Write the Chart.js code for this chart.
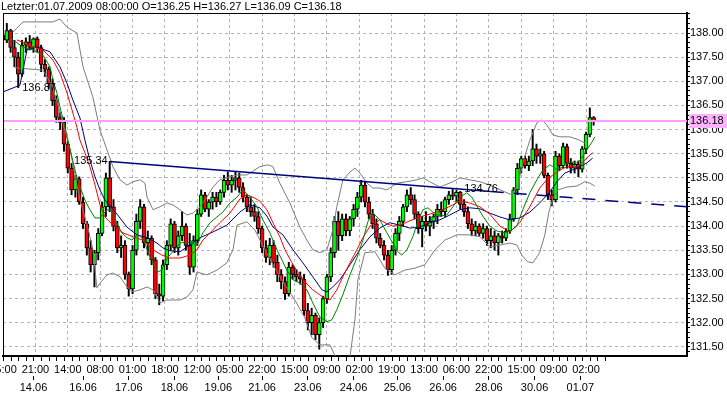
<!DOCTYPE html>
<html>
<head>
<meta charset="utf-8">
<title>Letzter 01.07.2009</title>
<script src="https://cdn.jsdelivr.net/npm/chart.js@4.4.1/dist/chart.umd.min.js"></script>
<style>
  html, body { margin: 0; padding: 0; background: #ffffff; }
  canvas { display: block; }
</style>
</head>
<body>
<canvas id="chart" width="727" height="398"></canvas>
<script>
// Kerzen: ein Eintrag je 2 Stunden-Bars (x = Bar-Nummer)
const barStep = 2;
const opens = [
  137.95,137.85,138.05,137.70,137.50,137.15,137.75,137.82,137.70,137.88,
  137.70,137.35,137.25,136.95,136.60,136.25,136.15,135.70,135.20,134.75,
  134.98,134.50,134.05,133.55,133.20,133.45,133.85,134.40,135.00,134.40,
  134.00,133.55,133.60,133.00,132.70,133.50,134.10,134.40,133.65,133.75,
  133.30,132.60,132.55,133.20,133.60,134.05,133.55,133.80,134.00,133.60,
  133.15,133.70,134.25,134.65,134.35,134.50,134.60,134.50,134.70,134.95,
  134.85,134.95,135.00,134.80,134.60,134.40,134.30,134.20,133.95,133.55,
  133.35,133.60,133.25,133.00,132.85,132.60,133.15,133.00,132.95,132.90,
  132.25,132.00,132.15,131.75,132.00,132.50,132.95,133.45,134.10,133.80,
  134.15,133.90,134.15,134.35,134.60,134.85,134.50,134.25,134.05,133.75,
  133.60,133.40,133.10,133.50,133.85,134.10,134.40,134.65,134.55,134.25,
  133.95,134.10,134.00,134.10,134.20,134.35,134.30,134.55,134.65,134.62,
  134.70,134.45,134.30,134.05,133.90,134.00,133.85,133.95,133.70,133.80,
  133.65,133.80,133.75,133.90,134.15,134.75,135.20,135.40,135.25,135.35,
  135.60,135.45,135.50,135.05,134.65,134.55,135.45,135.25,135.65,135.30,
  135.20,135.28,135.18,135.60,135.90,136.25
];
const highs = [
  138.15,138.20,138.08,137.85,137.60,137.85,137.90,137.95,137.90,137.92,
  137.75,137.45,137.30,137.05,136.70,136.35,136.25,135.75,135.30,135.05,
  135.02,134.60,134.10,133.70,133.50,133.95,134.50,135.10,135.34,134.55,
  134.10,133.80,133.70,133.05,133.60,134.25,134.55,134.45,133.90,133.80,
  133.35,132.80,133.30,133.70,134.15,134.10,133.90,134.30,134.05,133.85,
  133.80,134.35,134.75,134.70,134.55,134.70,134.70,134.75,135.05,135.12,
  135.05,135.12,135.10,134.90,134.65,134.60,134.45,134.30,134.00,133.70,
  133.75,133.70,133.40,133.10,132.95,133.25,133.20,133.10,133.05,133.00,
  132.40,132.30,132.20,132.10,132.55,133.00,133.55,134.20,134.30,134.25,
  134.25,134.20,134.45,134.70,134.95,134.93,134.60,134.35,134.15,133.85,
  133.70,133.50,133.60,133.95,134.20,134.45,134.75,134.80,134.65,134.30,
  134.20,134.30,134.20,134.25,134.45,134.50,134.60,134.72,134.76,134.74,
  134.72,134.55,134.40,134.15,134.10,134.05,134.05,134.00,133.95,133.90,
  133.85,133.90,133.95,134.25,134.80,135.30,135.45,135.45,135.45,136.00,
  135.70,135.60,135.55,135.10,134.75,135.55,135.50,135.72,135.70,135.40,
  135.35,135.35,135.65,135.95,136.45,136.27
];
const lows = [
  137.78,137.80,137.60,137.30,136.87,137.10,137.60,137.65,137.60,137.60,
  137.20,137.10,136.85,136.50,136.15,136.00,135.55,135.10,134.65,134.60,
  134.45,133.95,133.40,133.05,132.74,133.30,133.80,134.20,134.30,133.90,
  133.45,133.35,132.90,132.55,132.60,133.40,133.95,133.55,133.40,133.20,
  132.50,132.37,132.45,133.10,133.50,133.45,133.40,133.70,133.50,133.00,
  133.05,133.60,134.20,134.30,134.20,134.35,134.40,134.45,134.60,134.75,
  134.70,134.75,134.70,134.50,134.30,134.20,134.10,133.85,133.45,133.25,
  133.20,133.15,132.85,132.70,132.48,132.55,132.90,132.85,132.80,132.15,
  131.85,131.75,131.65,131.45,131.90,132.40,132.85,133.35,133.50,133.70,
  133.80,133.80,134.00,134.20,134.50,134.40,134.15,133.95,133.65,133.55,
  133.30,132.98,133.00,133.40,133.70,134.00,134.30,134.45,134.15,133.85,
  133.57,133.90,133.80,133.95,134.05,134.20,134.20,134.45,134.55,134.50,
  134.35,134.20,133.95,133.80,133.80,133.80,133.75,133.60,133.55,133.50,
  133.40,133.65,133.70,133.85,134.10,134.65,135.10,135.20,135.15,135.25,
  135.30,135.30,135.00,134.55,134.42,134.50,135.15,135.20,135.20,135.10,
  135.10,135.02,135.12,135.50,135.85,136.09
];
const closes = [
  137.85,138.05,137.70,137.50,137.15,137.75,137.82,137.70,137.88,137.70,
  137.35,137.25,136.95,136.60,136.25,136.15,135.70,135.20,134.75,134.98,
  134.50,134.05,133.55,133.20,133.45,133.85,134.40,135.00,134.40,134.00,
  133.55,133.60,133.00,132.70,133.50,134.10,134.40,133.65,133.75,133.30,
  132.60,132.55,133.20,133.60,134.05,133.55,133.80,134.00,133.60,133.15,
  133.70,134.25,134.65,134.35,134.50,134.60,134.50,134.70,134.95,134.85,
  134.95,135.00,134.80,134.60,134.40,134.30,134.20,133.95,133.55,133.35,
  133.60,133.25,133.00,132.85,132.60,133.15,133.00,132.95,132.90,132.25,
  132.00,132.15,131.75,132.00,132.50,132.95,133.45,134.10,133.80,134.15,
  133.90,134.15,134.35,134.60,134.85,134.50,134.25,134.05,133.75,133.60,
  133.40,133.10,133.50,133.85,134.10,134.40,134.65,134.55,134.25,133.95,
  134.10,134.00,134.10,134.20,134.35,134.30,134.55,134.65,134.62,134.70,
  134.45,134.30,134.05,133.90,134.00,133.85,133.95,133.70,133.80,133.65,
  133.80,133.75,133.90,134.15,134.75,135.20,135.40,135.25,135.35,135.60,
  135.45,135.50,135.05,134.65,134.55,135.45,135.25,135.65,135.30,135.20,
  135.28,135.18,135.60,135.90,136.25,136.18
];

// Achsen-Beschriftung (Bar-Nummern und Texte)
const timeTickBars = [0,17,34,51,68,85,102,119,136,153,170,187,204,221,238,255,272,289,306];
const timeLabels = ['05:00','21:00','14:00','08:00','01:00','18:00','12:00','05:00','22:00','15:00',
                    '09:00','02:00','19:00','13:00','06:00','22:00','15:00','09:00','02:00'];
const dateTickBars = [16,42,66,90,113,136,160,184,207,231,255,279,303];
const dateLabels = ['14.06','16.06','17.06','18.06','19.06','21.06','23.06','24.06','25.06','26.06','28.06','30.06','01.07'];

const maFast = [[3.7,137.90],[10.5,137.71],[15.7,137.65],[21,137.54],[24.7,137.30],[26.2,137.03],[28.3,136.76],[29.9,136.47],[32.5,136.05],[34.1,135.78],[36.2,135.43],[37.8,135.16],[39.4,134.92],[41.4,134.71],[43,134.54],[45.6,134.34],[48.3,134.17],[50.9,134.17],[54.6,134.34],[57.2,134.31],[60.3,134.02],[62.4,133.86],[65.1,133.76],[67.7,133.71],[69.3,133.78],[70.8,133.82],[72.9,133.76],[74.5,133.65],[76.1,133.45],[78.2,133.30],[79.7,133.16],[81.3,133.05],[83.4,133.09],[85,133.24],[86.6,133.36],[88.7,133.45],[90.2,133.51],[92.9,133.65],[95.5,133.67],[98.1,133.65],[101.8,133.61],[104.9,133.86],[108.6,134.07],[112.3,134.19],[115.4,134.29],[119.1,134.48],[122.8,134.60],[125.9,134.75],[129.6,134.60],[133.3,134.40],[136.4,134.13],[140.1,133.86],[143.8,133.51],[149,133.09],[152.2,132.89],[155.8,132.82],[159.5,132.68],[162.6,132.41],[166.3,132.12],[170,132.02],[172.6,132.06],[175.2,132.27],[178.4,132.58],[182.1,132.99],[185.7,133.34],[188.9,133.71],[191.5,134.09],[194.1,134.27],[197.8,134.13],[201.5,133.86],[204.6,133.65],[207.2,133.47],[209.3,133.40],[212,133.51],[215.1,133.78],[217.7,134.09],[220.4,134.34],[223,134.38],[225.6,134.29],[229.3,134.21],[232.9,134.23],[236.1,134.40],[239.8,134.60],[243.4,134.69],[246.1,134.60],[248.7,134.42],[251.8,134.21],[255.5,134.00],[259.2,133.90],[263.4,133.86],[267,133.92],[269.7,134.00],[272.8,134.34],[276.5,134.69],[280.2,134.96],[283.3,135.16],[287,135.27],[288.6,135.23],[291.2,135.16],[293.8,135.23],[297.5,135.33],[301.2,135.31],[303.8,135.41],[306.4,135.58],[309.1,135.74],[310.6,135.85]];
const maMid = [[7.3,137.86],[15.7,137.71],[21,137.65],[26.2,137.44],[29.9,137.17],[33.6,136.76],[36.2,136.41],[38.8,136.05],[40.4,135.78],[43,135.52],[45.6,135.23],[48.3,134.85],[50.9,134.44],[53.5,134.19],[57.7,134.02],[63,133.86],[68.2,133.78],[73.5,133.71],[78.7,133.51],[83.4,133.40],[87.6,133.34],[92.9,133.34],[98.1,133.40],[101.8,133.51],[104.9,133.71],[108.6,133.86],[113.8,134.07],[119.1,134.27],[124.3,134.56],[128,134.65],[131.2,134.60],[134.8,134.52],[138.5,134.34],[141.7,134.07],[145.3,133.78],[148,133.51],[152.2,133.20],[157.4,132.89],[162.6,132.68],[167.9,132.53],[171.6,132.47],[175.2,132.68],[178.4,132.95],[182.1,133.24],[185.7,133.51],[188.9,133.76],[192.6,134.00],[197.8,134.13],[201.5,134.05],[204.6,134.00],[208.3,134.02],[213.5,134.11],[218.8,134.19],[224,134.25],[229.3,134.31],[236.1,134.44],[239.8,134.52],[245,134.48],[250.3,134.40],[255.5,134.25],[260.8,134.00],[266,133.88],[271.2,134.07],[276.5,134.40],[281.7,134.79],[285.4,134.96],[288.6,135.06],[292.2,135.16],[295.9,135.23],[301.2,135.23],[304.3,135.33],[308,135.47],[309.5,135.52]];
const maSlow = [[0,136.78],[8.9,136.92],[12.6,137.65],[17.8,137.71],[24.7,137.61],[29.9,137.30],[33.6,136.96],[36.7,136.61],[40.4,136.24],[43,135.78],[45.6,135.37],[48.3,135.02],[50.9,134.75],[53.5,134.54],[56.1,134.42],[59.8,134.25],[65.1,133.98],[70.3,133.82],[75.6,133.76],[80.8,133.65],[83.9,133.55],[87.6,133.49],[92.9,133.47],[98.1,133.61],[103.4,133.76],[110.2,133.88],[117.5,134.02],[124.3,134.29],[129.6,134.44],[134.8,134.38],[138.5,134.21],[141.7,133.98],[146.9,133.82],[152.2,133.51],[157.4,133.24],[162.6,132.95],[167.4,132.68],[170,132.64],[173.1,132.74],[176.8,132.89],[182.1,133.20],[187.3,133.51],[192.6,133.78],[197.8,133.96],[203,134.07],[208.3,134.02],[213.5,133.96],[218.8,133.98],[224,134.07],[229.3,134.13],[234.5,134.23],[239.8,134.34],[245,134.38],[250.3,134.36],[255.5,134.27],[260.8,134.19],[266,134.13],[271.2,134.17],[276.5,134.29],[281.7,134.48],[287,134.71],[290.7,134.92],[294.9,135.10],[301.2,135.20],[306.4,135.31],[309.5,135.41]];
const bandUpper = [[5.2,138.02],[10.5,138.23],[26.2,138.23],[29.9,138.29],[33.6,138.12],[38.8,138.00],[42,137.30],[47.2,136.67],[50.9,135.99],[54.6,135.58],[57.7,135.23],[61.4,134.96],[65.1,134.85],[68.2,134.92],[71.9,134.96],[74.5,134.89],[75.6,134.60],[78.7,134.34],[82.4,134.40],[86,134.48],[89.2,134.44],[92.9,134.34],[96.5,134.23],[99.7,134.27],[103.4,134.40],[107,134.60],[110.2,134.81],[113.8,134.96],[119.1,135.02],[122.8,135.06],[128,135.06],[134.8,135.23],[139,135.27],[141.7,135.23],[145.3,134.89],[150.6,134.48],[155.8,133.98],[159.5,133.71],[162.6,133.51],[166.3,133.45],[170,133.51],[173.1,133.92],[175.2,134.40],[178.4,134.96],[182.1,135.12],[184.7,135.20],[187.3,135.10],[191,134.89],[194.1,134.79],[197.8,134.79],[201.5,134.75],[206.7,134.89],[212,134.92],[217.2,134.96],[220.4,135.00],[224,134.92],[229.3,134.81],[236.1,134.92],[239.8,135.00],[245,134.96],[250.3,134.92],[255.5,134.85],[263.4,134.71],[267,134.65],[270.2,134.85],[273.3,135.37],[276.5,135.78],[280.2,136.14],[282.8,136.20],[285.4,136.10],[288.6,135.89],[292.2,135.85],[297.5,135.85],[302.7,135.78],[305.4,135.72]];
const bandLower = [[6.3,137.28],[21,137.23],[25.7,136.92],[29.9,136.36],[35.2,135.58],[40.4,134.54],[44.6,133.96],[47.2,133.51],[49.3,132.72],[50.9,132.82],[54.6,132.99],[57.7,133.03],[61.4,132.95],[65.1,132.74],[68.2,132.64],[71.9,132.68],[75.6,132.74],[78.7,132.68],[82.4,132.41],[86,132.47],[92.9,132.47],[96.5,132.53],[99.7,132.68],[101.8,133.05],[107,132.99],[112.3,133.09],[117.5,133.24],[120.7,133.51],[122.8,134.02],[128,134.09],[132.2,133.92],[137.5,133.51],[142.7,133.13],[148,132.78],[153.2,132.47],[158.4,132.10],[162.1,131.69],[166.3,131.54],[171.6,131.54],[175.2,131.23],[177.9,130.98],[180,130.98],[182.1,131.29],[184.7,132.06],[186.3,132.89],[189.9,133.45],[195.2,133.47],[200.4,133.13],[205.7,132.99],[210.9,133.09],[216.2,133.13],[221.4,133.20],[226.7,133.51],[231.9,133.71],[238.2,133.82],[245,133.82],[250.3,133.78],[255.5,133.57],[260.8,133.61],[266,133.65],[269.7,133.61],[272.3,133.40],[275.4,133.26],[278.1,133.24],[281.7,133.45],[284.4,133.82],[286.5,134.29],[288.6,134.58],[291.2,134.75],[295.9,134.81],[301.2,134.83],[305.4,134.92],[308,134.89],[310.6,134.83]];

// Trendlinie und markierte Extrempunkte
const trendStart = [56, 135.34];
const trendSolidEnd = [256, 134.72];
const trendEnd = [359, 134.40];
const peaks = [
  { bar: 8, price: 136.87, side: 'left' },
  { bar: 56, price: 135.34, side: 'right' },
  { bar: 240, price: 134.76, side: 'left' }
];

const xMax = 359;
const minorTickStep = 4, minorTickLast = 316;
const fontCss = "11px 'Liberation Sans', Arial, sans-serif";
const font = { family: "'Liberation Sans', Arial, sans-serif", size: 11 };
const gridColor = '#b4b4b4';

const isHalf = v => Math.abs(v * 2 - Math.round(v * 2)) < 1e-6;
const pts = arr => arr.map(([b, p]) => ({ x: b, y: p }));

const candleX = opens.map((o, i) => i * barStep);
const wicks = candleX.map((x, i) => ({ x, y: [lows[i], highs[i]] }));
const bodies = candleX.map((x, i) => ({ x, y: [opens[i], closes[i]] }));
const bodyColors = opens.map((o, i) => closes[i] >= o ? '#00ff00' : '#ff0000');
const last = opens.length - 1;
const lastClose = closes[last];
const header = 'Letzter:01.07.2009 08:00:00 O=' + opens[last].toFixed(2) + ' H=' + highs[last].toFixed(2) +
               ' L=' + lows[last].toFixed(2) + ' C=' + lastClose.toFixed(2);

// Rahmen, kleine Ticks, Preisbox und Texte
const overlay = {
  id: 'overlay',
  afterDraw(chart) {
    const { ctx, chartArea: a, scales: { x, y } } = chart;
    ctx.save();
    ctx.strokeStyle = '#000';
    ctx.lineWidth = 1;
    ctx.beginPath();
    ctx.moveTo(a.left + 0.5, a.bottom);
    ctx.lineTo(a.left + 0.5, a.top + 0.5);
    ctx.lineTo(a.right, a.top + 0.5);
    for (let b = 0; b <= minorTickLast; b += minorTickStep) {
      const px = Math.round(x.getPixelForValue(b)) + 0.5;
      ctx.moveTo(px, a.bottom + 1);
      ctx.lineTo(px, a.bottom + 5);
    }
    ctx.stroke();

    ctx.font = fontCss;
    ctx.textBaseline = 'middle';
    ctx.fillStyle = '#000';
    ctx.textAlign = 'left';
    ctx.fillText(header, 1, 7);

    const py = Math.round(y.getPixelForValue(lastClose));
    ctx.fillStyle = '#ffb3ff';
    ctx.fillRect(a.right + 2, py - 7, 40, 14);
    ctx.fillStyle = '#000';
    ctx.fillText(lastClose.toFixed(2), a.right + 3, py);

    peaks.forEach(p => {
      const px = x.getPixelForValue(p.bar);
      const yy = y.getPixelForValue(p.price);
      ctx.textAlign = p.side;
      ctx.fillText(p.price.toFixed(2), p.side === 'left' ? px + 4 : px - 2, yy);
    });
    ctx.restore();
  }
};

const line = (data, color, order, extra) => Object.assign({
  type: 'line', data, borderColor: color, borderWidth: 1, pointRadius: 0,
  fill: false, tension: 0, order
}, extra || {});

new Chart(document.getElementById('chart'), {
  type: 'line',
  data: {
    datasets: [
      { type: 'bar', data: wicks, backgroundColor: '#000', barThickness: 1.3, grouped: false, order: 10 },
      { type: 'bar', data: bodies, backgroundColor: bodyColors, borderColor: '#000', borderWidth: 1,
        borderSkipped: false, barThickness: 4, grouped: false, order: 9 },
      line(pts(bandUpper), '#7c7c7c', 6),
      line(pts(bandLower), '#7c7c7c', 6),
      line(pts(maSlow), '#000080', 5),
      line(pts(maMid), '#ff0000', 4),
      line(pts(maFast), '#008000', 3),
      line([{ x: 0, y: lastClose }, { x: xMax, y: lastClose }], '#ff9cff', 2, { borderWidth: 2 }),
      line(pts([trendStart, trendSolidEnd]), '#000080', 1, { borderWidth: 1.5 }),
      line(pts([trendSolidEnd, trendEnd]), '#000080', 1, { borderWidth: 1.5, borderDash: [13, 10] })
    ]
  },
  options: {
    responsive: false,
    animation: false,
    devicePixelRatio: 1,
    events: [],
    layout: { padding: { left: 3, top: 13, right: 0, bottom: 0 } },
    plugins: { legend: { display: false }, tooltip: { enabled: false }, title: { display: false } },
    scales: {
      x: {
        type: 'linear', position: 'bottom', min: 0, max: xMax, offset: false, weight: 0,
        afterBuildTicks: s => { s.ticks = timeTickBars.map(v => ({ value: v })); },
        afterFit: s => { s.height = 20; s.paddingLeft = 0; s.paddingRight = 0; },
        ticks: { autoSkip: false, maxRotation: 0, padding: 7, color: '#000', font,
                 callback: (v, i) => timeLabels[i] },
        grid: { color: gridColor, drawTicks: false, offset: false },
        border: { display: true, color: '#000', width: 2, dash: [3, 3] }
      },
      x2: {
        type: 'linear', position: 'bottom', min: 0, max: xMax, offset: false, weight: 1,
        afterBuildTicks: s => { s.ticks = dateTickBars.map(v => ({ value: v })); },
        afterFit: s => { s.height = 22; s.paddingLeft = 0; s.paddingRight = 0; },
        ticks: { autoSkip: false, maxRotation: 0, padding: 1, color: '#000', font,
                 callback: (v, i) => dateLabels[i] },
        grid: { drawOnChartArea: false, drawTicks: true, tickLength: 4, tickColor: '#000', offset: false },
        border: { display: false }
      },
      y: {
        type: 'linear', position: 'right', min: 131.31, max: 138.415,
        afterFit: s => { s.width = 40; s.paddingTop = 0; s.paddingBottom = 0; },
        ticks: { stepSize: 0.1, includeBounds: false, autoSkip: false, padding: 0, color: '#000', font,
                 callback: v => isHalf(v) ? v.toFixed(2) : '' },
        grid: { color: c => isHalf(c.tick.value) ? gridColor : 'rgba(0,0,0,0)', tickColor: '#000', tickLength: 3 },
        border: { display: true, color: '#000', width: 2, dash: [3, 3] }
      }
    }
  },
  plugins: [overlay]
});
</script>
</body>
</html>
